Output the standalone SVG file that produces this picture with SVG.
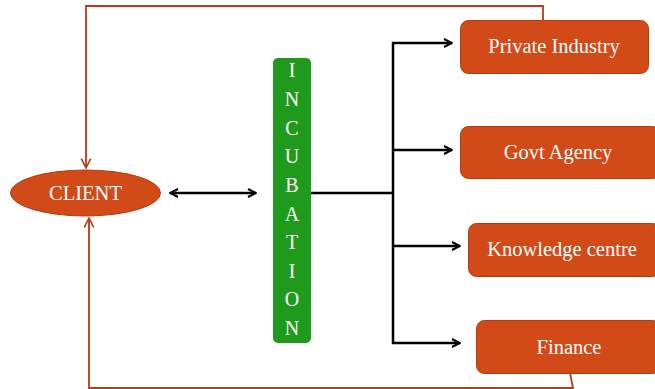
<svg xmlns="http://www.w3.org/2000/svg" width="655" height="389" viewBox="0 0 655 389">
<style>
.box{fill:#d14a17;stroke:#b03c12;stroke-width:1}
.lbl{font-family:"Liberation Serif","Times New Roman",serif;font-size:20.5px;fill:#ffffff;text-anchor:middle}
.inc{font-family:"Liberation Serif","Times New Roman",serif;font-size:20px;fill:#ffffff;text-anchor:middle}
.blk{fill:none;stroke:#000;stroke-width:2.5}
.red{fill:none;stroke:#b83c14;stroke-width:1.8}
</style>
<defs>
<marker id="ab" viewBox="0 0 10 10" refX="9" refY="5" markerWidth="4" markerHeight="4" markerUnits="strokeWidth" orient="auto-start-reverse">
<path d="M1,1 L9,5 L1,9" fill="none" stroke="#000" stroke-width="2"/>
</marker>
<marker id="ar" viewBox="0 0 10 10" refX="9" refY="5" markerWidth="6.5" markerHeight="6.5" markerUnits="strokeWidth" orient="auto">
<path d="M1,1 L9,5 L1,9" fill="none" stroke="#b83c14" stroke-width="1.4"/>
</marker>
</defs>
<g id="connectors">
<polyline class="red" points="543,20 543,6 86,6 86,168" marker-end="url(#ar)"/>
<polyline class="red" points="570,373 573,388 89,388 89,218" marker-end="url(#ar)"/>
<line class="blk" x1="170" y1="193" x2="256" y2="193" marker-start="url(#ab)" marker-end="url(#ab)"/>
<polyline class="blk" points="311,193 393,193"/>
<polyline class="blk" points="452,43 393,43 393,343 460,343" marker-start="url(#ab)" marker-end="url(#ab)"/>
<line class="blk" x1="393" y1="150" x2="452" y2="150" marker-end="url(#ab)"/>
<line class="blk" x1="393" y1="246" x2="460" y2="246" marker-end="url(#ab)"/>
</g>
<g id="client">
<ellipse class="box" cx="85.5" cy="193" rx="75" ry="23"/>
<text class="lbl" x="85.5" y="200" font-size="19">CLIENT</text>
</g>
<g id="incubation">
<rect x="273" y="58" width="38" height="285" rx="5" fill="#1f9a1c"/>
<text class="inc" x="292" y="77">I</text>
<text class="inc" x="292" y="106">N</text>
<text class="inc" x="292" y="135">C</text>
<text class="inc" x="292" y="163">U</text>
<text class="inc" x="292" y="192">B</text>
<text class="inc" x="292" y="221">A</text>
<text class="inc" x="292" y="249">T</text>
<text class="inc" x="292" y="278">I</text>
<text class="inc" x="292" y="306">O</text>
<text class="inc" x="292" y="335">N</text>
</g>
<g id="private">
<rect class="box" x="460.5" y="20.5" width="188" height="53" rx="8"/>
<text class="lbl" x="554" y="53">Private Industry</text>
</g>
<g id="govt">
<rect class="box" x="460.5" y="126.5" width="200" height="52" rx="8"/>
<text class="lbl" x="558" y="159">Govt Agency</text>
</g>
<g id="knowledge">
<rect class="box" x="468.5" y="223.5" width="192" height="53" rx="8"/>
<text class="lbl" x="562" y="256">Knowledge centre</text>
</g>
<g id="finance">
<rect class="box" x="476.5" y="320.5" width="184" height="53" rx="8"/>
<text class="lbl" x="569" y="354">Finance</text>
</g>
</svg>
